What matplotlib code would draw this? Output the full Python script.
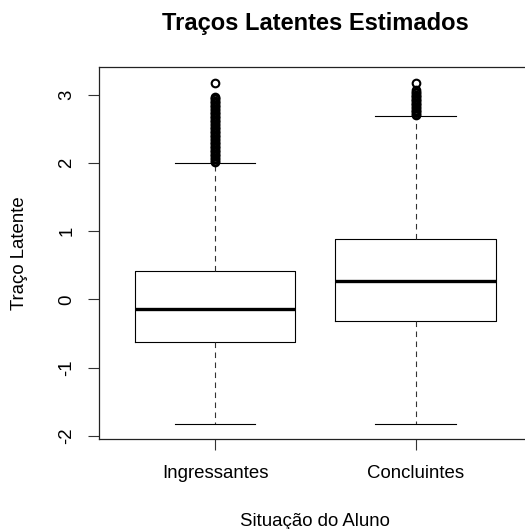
import matplotlib.pyplot as plt

plt.rcParams["font.family"] = ["Liberation Sans", "DejaVu Sans"]

# Box statistics
groups = ["Ingressantes", "Concluintes"]
q1 = [-0.62, -0.31]
medians = [-0.14, 0.27]
q3 = [0.42, 0.89]
whisker_low = [-1.83, -1.83]
whisker_high = [2.01, 2.69]
outliers_ing = [2.02, 2.04, 2.06, 2.08, 2.10, 2.12, 2.14, 2.16, 2.18, 2.20, 2.22,
                2.24, 2.26, 2.28, 2.30, 2.32, 2.34, 2.36, 2.38, 2.40, 2.42, 2.44,
                2.46, 2.48, 2.50, 2.52, 2.54, 2.56, 2.58, 2.60, 2.62, 2.64, 2.66,
                2.68, 2.70, 2.72, 2.74, 2.76, 2.78, 2.80, 2.82, 2.84, 2.86, 2.88,
                2.90, 2.92, 2.94, 2.96, 2.98, 3.18]
outliers_con = [2.71, 2.73, 2.75, 2.77, 2.79, 2.81, 2.83, 2.85, 2.87, 2.89, 2.91,
                2.93, 2.95, 2.97, 2.99, 3.01, 3.03, 3.05, 3.07, 3.18]
yticks = [-2, -1, 0, 1, 2, 3]

stats = []
for i, name in enumerate(groups):
    stats.append({
        "label": name,
        "q1": q1[i],
        "med": medians[i],
        "q3": q3[i],
        "whislo": whisker_low[i],
        "whishi": whisker_high[i],
        "fliers": [outliers_ing, outliers_con][i],
    })

fig = plt.figure(figsize=(5.25, 5.29), dpi=100)
# right edge of the plot box falls just outside the picture, like the original
ax = fig.add_axes([99 / 525, 90 / 529, 432.7 / 525, 371.7 / 529])

ax.bxp(
    stats,
    positions=[1, 2],
    widths=0.8,
    capwidths=0.4,
    boxprops=dict(color="black", linewidth=0.8),
    medianprops=dict(color="black", linewidth=2.4, solid_capstyle="butt"),
    whiskerprops=dict(color="#333333", linewidth=0.8, linestyle=(0, (5, 4))),
    capprops=dict(color="black", linewidth=0.8),
    flierprops=dict(marker="o", markerfacecolor="none", markeredgecolor="black",
                    markersize=5.5, markeredgewidth=1.5),
)

ax.set_xlim(0.42, 2.58)
ax.set_ylim(-2.05, 3.41)
ax.set_yticks(yticks)
ax.set_yticklabels([str(v) for v in yticks], rotation=90, va="center")
ax.tick_params(axis="both", length=8, width=0.8, labelsize=13.4, color="#333333")
ax.tick_params(axis="y", pad=9)
ax.tick_params(axis="x", pad=11)
for spine in ax.spines.values():
    spine.set_linewidth(0.9)
    spine.set_color("#222222")

ax.set_title("Traços Latentes Estimados", fontsize=17, fontweight="bold", pad=27)
ax.set_xlabel("Situação do Aluno", fontsize=13.4, va="center")
ax.xaxis.set_label_coords((315 - 99) / 432.7, (439 - 521) / 371.7)
ax.set_ylabel("Traço Latente", fontsize=13.4, va="center")
ax.yaxis.set_label_coords((20 - 99) / 432.7, 0.5)

fig.savefig("out.png", dpi=100)
